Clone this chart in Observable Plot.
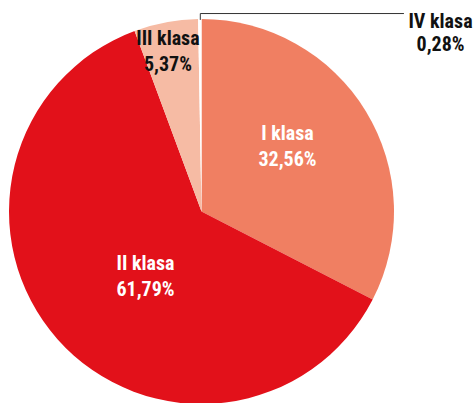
<!DOCTYPE html>
<html>
<head>
<meta charset="utf-8">
<script src="https://cdn.jsdelivr.net/npm/d3@7"></script>
<script src="https://cdn.jsdelivr.net/npm/@observablehq/plot@0.6"></script>
<style>
  html, body { margin: 0; padding: 0; background: #fff; }
  #chart svg { display: block; }
</style>
</head>
<body>
<div id="chart"></div>
<script>
// ---- data ----
const categories = ["I klasa", "II klasa", "III klasa", "IV klasa"];
const values = [32.56, 61.79, 5.37, 0.28];
const valueLabels = ["32,56%", "61,79%", "5,37%", "0,28%"];

// ---- styling / layout ----
const sliceColors = ["#f07f62", "#e2111a", "#f6bba4", "#ffffff"];
const labelColors = ["#ffffff", "#ffffff", "#111111", "#111111"];
const labelRadius = [0.566, 0.437, 0.86];
const labelTurn = [-6.9, -6.3, -1.2]; // degrees
const fontFamily = "'Liberation Sans Narrow', 'Roboto Condensed', 'DejaVu Sans Condensed', sans-serif";

const data = categories.map((c, i) => ({category: c, value: values[i], label: valueLabels[i], i}));
const arcs = d3.pie().sort(null).value(d => d.value)(data);

const color = Plot.scale({color: {domain: categories, range: sliceColors}});
const polar = (ang, r) => ({x: Math.sin(ang) * r, y: Math.cos(ang) * r});
const mid = a => (a.startAngle + a.endAngle) / 2;

const labels = arcs.slice(0, 3).map((a, k) => {
  const p = polar(mid(a) + labelTurn[k] * Math.PI / 180, labelRadius[k]);
  return {...p, text: `${a.data.category}\n${a.data.label}`, fill: labelColors[k]};
});

// IV klasa: outside label with leader
const arcIV = arcs[3];
const p0 = polar(mid(arcIV), 1);
const leaderY = 1.031, leaderEndX = 1.047;
const leader = [p0, {x: p0.x, y: leaderY}, {x: leaderEndX, y: leaderY}];
const outside = [{x: 1.239, y: 0.932, text: `${arcIV.data.category}\n${arcIV.data.label}`}];

const pieMark = (index, scales) => {
  const cx = scales.x(0), cy = scales.y(0), R = scales.x(1) - scales.x(0);
  const g = d3.create("svg:g").attr("transform", `translate(${cx},${cy})`);
  g.selectAll("path").data(arcs).join("path")
    .attr("d", d3.arc().innerRadius(0).outerRadius(R))
    .attr("fill", d => color.apply(d.data.category));
  return g.node();
};

const chart = Plot.plot({
  width: 473,
  height: 403,
  margin: 0,
  x: {domain: [-1, 1], range: [9, 394], axis: null},
  y: {domain: [-1, 1], range: [404, 19], axis: null},
  style: {fontFamily, background: "#fff"},
  marks: [
    pieMark,
    Plot.line(leader, {x: "x", y: "y", stroke: "#333", strokeWidth: 1}),
    Plot.text(labels, {x: "x", y: "y", text: "text", fill: "fill", fontSize: 20, fontWeight: "bold", lineHeight: 1.3, textAnchor: "middle"}),
    Plot.text(outside, {x: "x", y: "y", text: "text", fill: "#111", fontSize: 20, fontWeight: "bold", lineHeight: 1.15, textAnchor: "middle"})
  ]
});
document.getElementById("chart").appendChild(chart);
</script>
</body>
</html>
